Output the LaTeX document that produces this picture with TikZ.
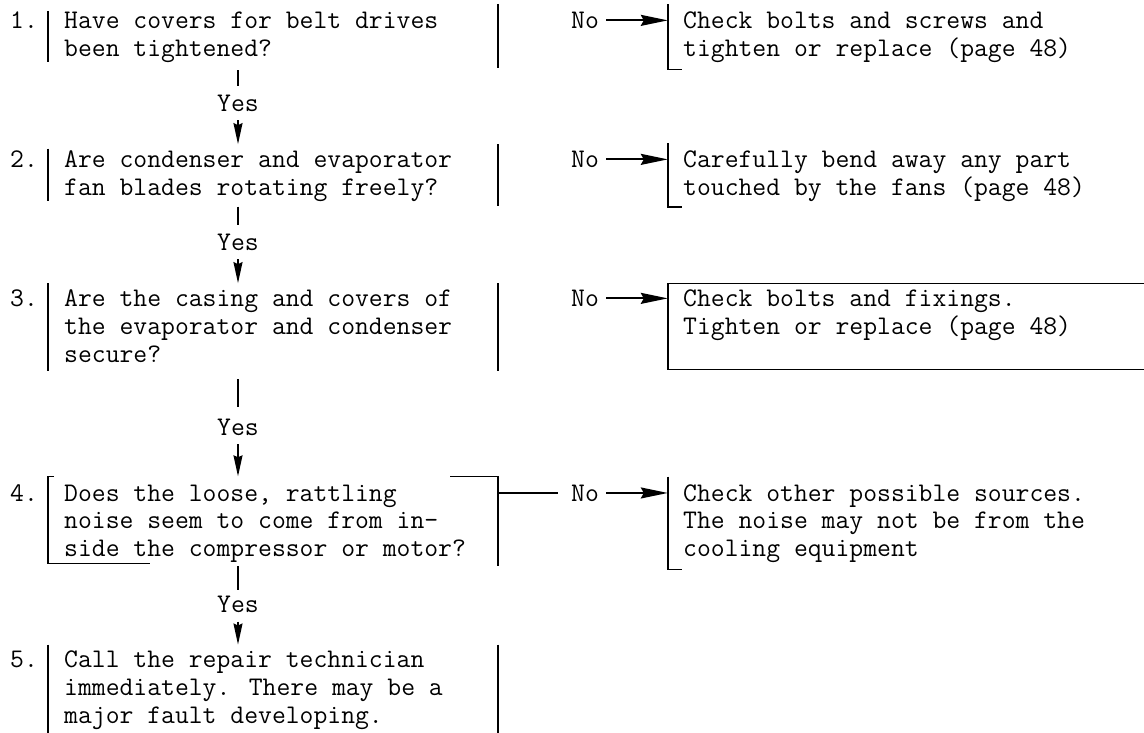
\documentclass[tikz,border=0pt]{standalone}
\usepackage{fontspec}
\usetikzlibrary{arrows.meta,fit}
\begin{document}
\begin{tikzpicture}[x=1pt,y=-1pt,
  tw/.style={anchor=base west, inner sep=0pt, font=\ttfamily\fontsize{26.9}{27.8}\selectfont},
  lbl/.style={anchor=base, inner sep=0pt, font=\ttfamily\fontsize{26.9}{27.8}\selectfont},
  rule/.style={line width=1.5pt},
  region/.style={inner sep=0pt, draw=none},
  downarrow/.style={line width=1.5pt, -{Stealth[length=21pt,width=9pt,inset=2pt]}},
  noarrow/.style={line width=1.8pt, -{Stealth[length=27pt,width=11pt,inset=3pt]}}]
\useasboundingbox (0,0) rectangle (1144,732);
\fill[white] (0,0) rectangle (1144,732);

% ---------- regions of the boxes ----------
\node[region, fit={(48,3.9) (498,67.9)}] (q1) {};
\node[region, fit={(48,144.3) (498,205.5)}] (q2) {};
\node[region, fit={(48,283.3) (498,370.9)}] (q3) {};
\node[region, fit={(48,476.5) (498,566)}] (q4) {};
\node[region, fit={(48,644.7) (498,740)}] (q5) {};
\node[region, fit={(668,4) (1082,69.3)}] (r1) {};
\node[region, fit={(668,143) (1082,207)}] (r2) {};
\node[region, fit={(668,283.3) (1144,369.5)}] (r3) {};
\node[region, fit={(668,476.5) (1100,569.7)}] (r4) {};

% ---------- box outlines ----------
\draw[rule] (48,10.9) -- (48,62.3);
\draw[rule] (498,3.9) -- (498,67.9);
\draw[rule] (48,148.5) -- (48,201.3);
\draw[rule] (498,144.3) -- (498,205.5);
\draw[rule] (48,283.3) -- (48,370.9);
\draw[rule] (498,283.3) -- (498,370.9);
\draw[rule] (54,476.5) -- (48,476.5) -- (48,563.3) -- (150,563.3);
\draw[rule] (450,476.5) -- (498,476.5) -- (498,566);
\draw[rule] (48,644.7) -- (48,740);
\draw[rule] (498,644.7) -- (498,740);

\draw[rule] (668,4) -- (668,69.3) -- (682,69.3);
\draw[rule] (668,143) -- (668,207) -- (682,207);
\draw[rule] (1150,283.3) -- (668,283.3) -- (668,369.5) -- (1150,369.5);
\draw[rule] (668,476.5) -- (668,569.7) -- (682,569.7);

% ---------- numbers ----------
\node[tw] (n1) at (10,28.5) {1.};
\node[tw] (n2) at (10,167.5) {2.};
\node[tw] (n3) at (10,306.5) {3.};
\node[tw] (n4) at (10,501.1) {4.};
\node[tw] (n5) at (10,667.9) {5.};

% ---------- question texts ----------
\node[tw] (t1a) at (64,28.5) {Have covers for belt drives};
\node[tw] (t1b) at (64,56.3) {been tightened?};
\node[tw] (t2a) at (64,167.5) {Are condenser and evaporator};
\node[tw] (t2b) at (64,195.3) {fan blades rotating freely?};
\node[tw] (t3a) at (64,306.5) {Are the casing and covers of};
\node[tw] (t3b) at (64,334.3) {the evaporator and condenser};
\node[tw] (t3c) at (64,362.1) {secure?};
\node[tw] (t4a) at (64,501.1) {Does the loose, rattling};
\node[tw] (t4b) at (64,528.9) {noise seem to come from in-};
\node[tw] (t4c) at (64,556.7) {side the compressor or motor?};
\node[tw] (t5a) at (64,667.9) {Call the repair technician};
\node[tw] (t5b) at (64,695.7) {immediately. There may be a};
\node[tw] (t5c) at (64,723.5) {major fault developing.};

% ---------- action texts ----------
\node[tw] (a1a) at (683,28.5) {Check bolts and screws and};
\node[tw] (a1b) at (683,56.3) {tighten or replace (page 48)};
\node[tw] (a2a) at (683,167.5) {Carefully bend away any part};
\node[tw] (a2b) at (683,195.3) {touched by the fans (page 48)};
\node[tw] (a3a) at (683,306.5) {Check bolts and fixings.};
\node[tw] (a3b) at (683,334.3) {Tighten or replace (page 48)};
\node[tw] (a4a) at (683,501.1) {Check other possible sources.};
\node[tw] (a4b) at (683,528.9) {The noise may not be from the};
\node[tw] (a4c) at (683,556.7) {cooling equipment};

% ---------- Yes connectors ----------
\node[lbl] (y1) at (238,111.9) {Yes};
\node[lbl] (y2) at (238,250.9) {Yes};
\node[lbl] (y3) at (238,435.8) {Yes};
\node[lbl] (y4) at (238,612.3) {Yes};

\draw[rule, shorten <=2pt, shorten >=9pt] (q1.south -| y1) -- (y1.north);
\draw[downarrow, shorten <=8pt] (y1.south) -- (y1 |- q2.north);
\draw[rule, shorten <=1pt, shorten >=9pt] (q2.south -| y2) -- (y2.north);
\draw[downarrow, shorten <=8pt] (y2.south) -- (y2 |- q3.north);
\draw[rule, shorten <=8pt, shorten >=12pt] (q3.south -| y3) -- (y3.north);
\draw[downarrow, shorten <=8pt] (y3.south) -- (y3 |- q4.north);
\draw[rule, shorten >=6pt] (q4.south -| y4) -- (y4.north);
\draw[downarrow, shorten <=9pt] (y4.south) -- (y4 |- q5.north);

% ---------- No connectors ----------
\node[lbl] (no1) at (585,28.5) {No};
\node[lbl] (no2) at (585,167.5) {No};
\node[lbl] (no3) at (585,306.5) {No};
\node[lbl] (no4) at (585,501.1) {No};

\draw[noarrow, shorten <=7pt] (no1.east) -- (no1.east -| r1.west);
\draw[noarrow, shorten <=7pt] (no2.east) -- (no2.east -| r2.west);
\draw[noarrow, shorten <=7pt] (no3.east) -- (no3.east -| r3.west);
\draw[rule, shorten >=13pt] (no4.west -| q4.east) -- (no4.west);
\draw[noarrow, shorten <=7pt] (no4.east) -- (no4.east -| r4.west);
\end{tikzpicture}
\end{document}
